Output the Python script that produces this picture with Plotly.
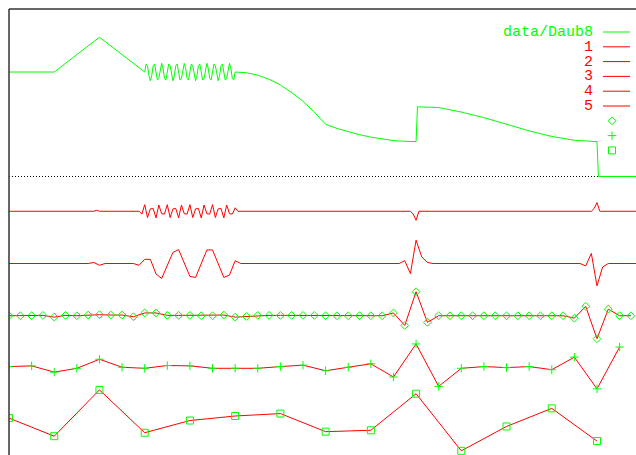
import plotly.graph_objects as go

# ---------------------------------------------------------------------------
# Input signal (data/Daub8): sample index -> value
# ---------------------------------------------------------------------------
RAMP_X = [0, 32, 64, 96]
RAMP_Y = [3.00, 3.00, 4.00, 3.00]

CHIRP_X = list(range(97, 161))
CHIRP_Y = [
    3.23, 3.18, 2.90, 2.75, 2.90, 3.18, 3.23, 3.00, 2.77, 2.82, 3.10, 3.25, 3.10, 2.82, 2.77, 3.00,
    3.23, 3.18, 2.90, 2.75, 2.90, 3.18, 3.23, 3.00, 2.77, 2.82, 3.10, 3.25, 3.10, 2.82, 2.77, 3.00,
    3.23, 3.18, 2.90, 2.75, 2.90, 3.18, 3.23, 3.00, 2.77, 2.82, 3.10, 3.25, 3.10, 2.82, 2.77, 3.00,
    3.23, 3.18, 2.90, 2.75, 2.90, 3.18, 3.23, 3.00, 2.77, 2.82, 3.10, 3.25, 3.10, 2.82, 2.77, 3.00,
]

DROOP_X = [168, 176, 184, 192, 200, 208, 216, 224]
DROOP_Y = [2.98, 2.91, 2.79, 2.63, 2.41, 2.16, 1.85, 1.50]

DECAY_X = [232, 240, 248, 256, 264, 272, 280, 288]
DECAY_Y = [1.38, 1.28, 1.20, 1.13, 1.07, 1.03, 1.01, 1.00]

STEP_X = [289, 304, 320, 336, 352, 368, 384, 400, 416]
STEP_Y = [2.00, 1.98, 1.85, 1.69, 1.50, 1.31, 1.15, 1.04, 1.00]

TAIL_X = [417, 448]
TAIL_Y = [0.00, 0.00]

# ---------------------------------------------------------------------------
# Detail coefficients, levels 1..5 (sample position -> coefficient)
# ---------------------------------------------------------------------------
L1_X = [0, 60, 62, 64, 92, 94,
        96, 98, 100, 102, 104, 106, 108, 110, 112, 114, 116, 118, 120, 122, 124, 126,
        128, 130, 132, 134, 136, 138, 140, 142, 144, 146, 148, 150, 152, 154, 156, 158,
        160, 162, 284, 286, 288, 290, 412, 414, 416, 418, 446]
L1_V = [0.00, 0.00, 0.03, 0.00, 0.00, -0.08,
        0.19, -0.18, 0.07, 0.08, -0.19, 0.18, -0.07, -0.08, 0.19, -0.18, 0.07, 0.08, -0.19, 0.18, -0.07, -0.08,
        0.19, -0.18, 0.07, 0.08, -0.19, 0.18, -0.07, -0.08, 0.19, -0.18, 0.07, 0.08, -0.19, 0.18, -0.07, -0.08,
        0.10, 0.00, 0.00, -0.08, -0.26, 0.00, 0.00, 0.08, 0.25, 0.00, 0.00]

L2_X = [0, 56, 60, 64, 68, 88, 92, 96, 100, 104, 108, 112, 116, 120, 124, 128, 132, 136,
        140, 144, 148, 152, 156, 160, 164, 276, 280, 284, 288, 292, 296, 300,
        404, 408, 412, 416, 420, 424, 444]
L2_V = [0.00, 0.00, 0.03, -0.05, 0.00, 0.00, -0.05, 0.12, 0.12, -0.30, -0.43, -0.05, 0.32, 0.40,
        0.00, -0.37, -0.40, 0.00, 0.39, 0.39, 0.00, -0.40, -0.33, 0.08, 0.00,
        0.00, 0.08, -0.29, 0.67, 0.19, 0.03, 0.00,
        0.00, -0.07, 0.29, -0.64, -0.10, 0.00, 0.00]

L3_X = list(range(0, 448, 8))
L3_V = [0.00, 0.00, 0.00, 0.01, -0.04, 0.01, 0.00, 0.02, 0.03, 0.02, 0.02, -0.03, 0.08, 0.08,
        0.01, 0.01, 0.01, 0.00, 0.00, 0.02, -0.04, -0.02, 0.01, 0.01, 0.01, 0.01, 0.01, 0.01,
        0.00, 0.00, 0.00, 0.00, 0.00, 0.00, 0.08, -0.28, 0.69, -0.19, 0.00, 0.00, 0.00, 0.00,
        0.00, 0.00, 0.00, 0.00, 0.00, 0.00, 0.00, 0.00, -0.07, 0.27, -0.66, 0.19, 0.00, 0.00]

L4_X = list(range(0, 448, 16))
L4_V = [0.04, 0.06, -0.12, -0.01, 0.25, 0.02, -0.01, 0.07, 0.06, -0.01, -0.01, -0.01, 0.04, 0.08,
        -0.08, 0.02, 0.12, -0.26, 0.69, -0.53, -0.01, 0.04, 0.01, 0.04, -0.05, 0.31, -0.60, 0.60]

L5_X = list(range(0, 448, 32))
L5_V = [0.06, -0.46, 0.87, -0.36, -0.01, 0.12, 0.19, -0.33, -0.29, 0.76, -0.88, -0.18, 0.34, -0.60]

LEVEL_NAMES = ["1", "2", "3", "4", "5"]
LEVEL_OFFSETS = [-1.0, -2.5, -4.0, -5.5, -7.0]

GREEN = "#00ff00"
RED = "#ff0000"
FONT = "Liberation Mono, Courier New, monospace"

W, H = 636, 455
ML, MT = 9, 9
X_RANGE = [0, 443.6]
Y_RANGE = [-8.0, 4.81]


def px_to_paper_x(px):
    return (px - ML) / (W - ML)


def px_to_paper_y(py):
    return 1 - (py - MT) / (H - MT)


fig = go.Figure()

data_x = RAMP_X + CHIRP_X + DROOP_X + DECAY_X + STEP_X + TAIL_X
data_y = RAMP_Y + CHIRP_Y + DROOP_Y + DECAY_Y + STEP_Y + TAIL_Y
fig.add_trace(go.Scatter(x=data_x, y=data_y, mode="lines", name="data/Daub8",
                         line=dict(color=GREEN, width=1)))

levels = [(L1_X, L1_V), (L2_X, L2_V), (L3_X, L3_V), (L4_X, L4_V), (L5_X, L5_V)]
for (lx, lv), name, off in zip(levels, LEVEL_NAMES, LEVEL_OFFSETS):
    fig.add_trace(go.Scatter(x=lx, y=[v + off for v in lv], mode="lines", name=name,
                             line=dict(color=RED, width=1)))

point_styles = [("diamond-open", 6), ("cross-thin-open", 6), ("square-open", 7)]
for (lx, lv), off, (sym, size) in zip(levels[2:], LEVEL_OFFSETS[2:], point_styles):
    fig.add_trace(go.Scatter(x=lx, y=[v + off for v in lv], mode="markers", showlegend=False,
                             marker=dict(symbol=sym, size=size, color=GREEN,
                                         line=dict(color=GREEN, width=1))))

# key box in the upper right corner
key_rows = [32 + 14.8 * i for i in range(9)]
key_labels = ["data/Daub8"] + LEVEL_NAMES
key_colors = [GREEN] + [RED] * 5
annotations = []
shapes = []
for row, label, col in zip(key_rows, key_labels, key_colors):
    annotations.append(dict(x=px_to_paper_x(594), y=px_to_paper_y(row), xref="paper", yref="paper",
                            text=label, showarrow=False, xanchor="right", yanchor="middle",
                            height=14, borderpad=0,
                            font=dict(family=FONT, size=15, color=col)))
    shapes.append(dict(type="line", xref="paper", yref="paper",
                       x0=px_to_paper_x(603), x1=px_to_paper_x(630),
                       y0=px_to_paper_y(row), y1=px_to_paper_y(row),
                       line=dict(color=col, width=1)))

key_marker_rows = key_rows[6:]
for row, (sym, size) in zip(key_marker_rows, point_styles):
    fig.add_trace(go.Scatter(x=[px_to_paper_x(612)], y=[px_to_paper_y(row)], xaxis="x2", yaxis="y2",
                             mode="markers", showlegend=False,
                             marker=dict(symbol=sym, size=size, color=GREEN,
                                         line=dict(color=GREEN, width=1))))

# zero axis and the visible border edges
shapes.append(dict(type="line", xref="paper", yref="y", x0=0, x1=1, y0=0, y1=0, layer="below",
                   line=dict(color="black", width=1, dash="1px,2px")))
shapes.append(dict(type="line", xref="paper", yref="paper", x0=0, x1=1, y0=1, y1=1,
                   line=dict(color="#333333", width=1.5)))
shapes.append(dict(type="line", xref="paper", yref="paper", x0=0, x1=0, y0=0, y1=1,
                   line=dict(color="#333333", width=1.5)))

hidden = dict(showgrid=False, zeroline=False, showticklabels=False, ticks="", showline=False)
fig.update_layout(
    width=W, height=H,
    margin=dict(l=ML, r=0, t=MT, b=0, pad=0),
    paper_bgcolor="white", plot_bgcolor="white",
    showlegend=False,
    xaxis=dict(range=X_RANGE, **hidden),
    yaxis=dict(range=Y_RANGE, **hidden),
    xaxis2=dict(range=[0, 1], overlaying="x", **hidden),
    yaxis2=dict(range=[0, 1], overlaying="y", **hidden),
    annotations=annotations,
    shapes=shapes,
)

fig.write_html("out.html")
